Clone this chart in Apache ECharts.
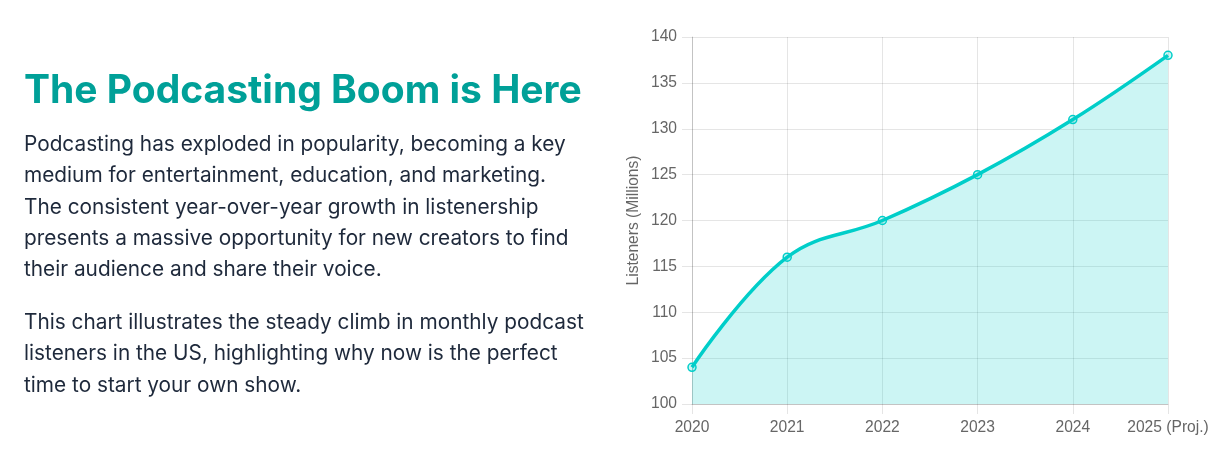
<!DOCTYPE html>
<html>
<head>
<meta charset="utf-8">
<script src="https://cdn.jsdelivr.net/npm/echarts@6/dist/echarts.min.js"></script>
<style>
  html, body { margin: 0; padding: 0; background: #ffffff; width: 1227px; height: 457px; overflow: hidden; }
  #chart { position: absolute; left: 0; top: 0; width: 1227px; height: 457px; }
  .txt { position: absolute; left: 24px; font-family: Inter, "Noto Sans", sans-serif; white-space: nowrap; z-index: 2; }
  #title { top: 69px; font-size: 39px; line-height: 39px; font-weight: 700; color: #00a098; }
  .para { font-size: 20.8px; line-height: 31.25px; color: #1e293b; }
  #p1 { top: 128px; }
  #p2 { top: 306px; }
</style>
</head>
<body>
<div id="title" class="txt">The Podcasting Boom is Here</div>
<div id="p1" class="txt para">Podcasting has exploded in popularity, becoming a key<br>medium for entertainment, education, and marketing.<br>The consistent year-over-year growth in listenership<br>presents a massive opportunity for new creators to find<br>their audience and share their voice.</div>
<div id="p2" class="txt para">This chart illustrates the steady climb in monthly podcast<br>listeners in the US, highlighting why now is the perfect<br>time to start your own show.</div>
<div id="chart"></div>
<script>
const categories = ['2020', '2021', '2022', '2023', '2024', '2025 (Proj.)'];
const listeners = [104, 116, 120, 125, 131, 138];
const yTicks = { min: 100, max: 140, interval: 5 };

const gridColor = 'rgba(0,0,0,0.1)';
const labelFont = { color: '#666666', fontSize: 15.6, fontFamily: '"Liberation Sans", Arial, sans-serif' };

const chart = echarts.init(document.getElementById('chart'));
chart.setOption({
  animation: false,
  grid: { left: 692, right: 59, top: 37, bottom: 53, containLabel: false },
  xAxis: {
    type: 'category',
    data: categories,
    boundaryGap: false,
    axisLine: { show: true, lineStyle: { color: 'rgba(0,0,0,0.15)', width: 1 } },
    axisTick: { show: true, length: 10, interval: 0, lineStyle: { color: gridColor } },
    axisLabel: Object.assign({ margin: 16, interval: 0 }, labelFont),
    splitLine: { show: true, interval: 0, lineStyle: { color: gridColor, width: 1 } }
  },
  yAxis: {
    type: 'value',
    min: yTicks.min,
    max: yTicks.max,
    interval: yTicks.interval,
    name: 'Listeners (Millions)',
    nameLocation: 'middle',
    nameGap: 50,
    nameTextStyle: labelFont,
    axisLine: { show: true, lineStyle: { color: 'rgba(0,0,0,0.15)', width: 1 } },
    axisTick: { show: true, length: 10, lineStyle: { color: gridColor } },
    axisLabel: Object.assign({ margin: 15 }, labelFont),
    splitLine: { show: true, lineStyle: { color: gridColor, width: 1 } }
  },
  series: [{
    type: 'line',
    data: listeners,
    smooth: 0.4,
    symbol: 'circle',
    symbolSize: 8,
    showSymbol: true,
    itemStyle: { color: 'rgba(0,206,201,0.2)', borderColor: '#00cec9', borderWidth: 1.5 },
    lineStyle: { color: '#00cec9', width: 3.5 },
    areaStyle: { color: 'rgba(0,206,201,0.2)', opacity: 1 }
  }]
});
</script>
</body>
</html>
